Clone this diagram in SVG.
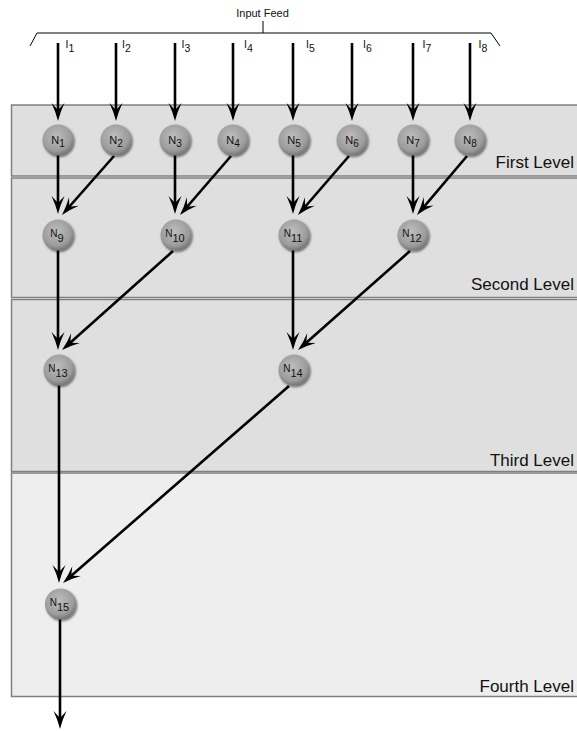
<svg xmlns="http://www.w3.org/2000/svg" width="577" height="731" viewBox="0 0 577 731">
<style>
.panel{stroke:#808080;stroke-width:1.5}
.p1{fill:#dfdfdf}.p4{fill:#eeeeee}
.lvl{font-family:"Liberation Sans",Arial,sans-serif;font-size:17px;fill:#111;text-anchor:end}
.lab{font-family:"Liberation Sans",Arial,sans-serif;fill:#111}
.edge{stroke:#000;stroke-width:2.6;fill:none;marker-end:url(#ah)}
.node circle{fill:url(#ng);filter:url(#sh)}
.n1{font-size:11px}.s1{font-size:10px}
.n2{font-size:10px}.s2{font-size:11px}
</style>
<defs>
<radialGradient id="ng" cx="45%" cy="38%" r="62%">
<stop offset="0" stop-color="#bdbdbd"/>
<stop offset="0.75" stop-color="#9c9c9c"/>
<stop offset="1" stop-color="#767676"/>
</radialGradient>
<filter id="sh" x="-30%" y="-30%" width="170%" height="170%">
<feDropShadow dx="1.2" dy="1.5" stdDeviation="1" flood-color="#000" flood-opacity="0.55"/>
</filter>
<marker id="ah" viewBox="-19 -7 20 14" markerWidth="20" markerHeight="14" refX="-8" refY="0" orient="auto" markerUnits="userSpaceOnUse">
<path d="M0,0 Q-9,-2.2 -18,-6.5 L-11,0 L-18,6.5 Q-9,2.2 0,0 Z" fill="#000"/>
</marker>
</defs>

<g id="panels">
<rect class="panel p1" x="11.5" y="105" width="580" height="71"/>
<rect class="panel p1" x="11.5" y="178" width="580" height="119.5"/>
<rect class="panel p1" x="11.5" y="299.5" width="580" height="172"/>
<rect class="panel p4" x="11.5" y="473" width="580" height="223.5"/>
<text class="lvl" x="574" y="168">First Level</text>
<text class="lvl" x="574" y="290">Second Level</text>
<text class="lvl" x="574" y="466">Third Level</text>
<text class="lvl" x="574" y="692">Fourth Level</text>
</g>

<g id="input-feed">
<polyline points="30,46 37,33 491,33 500,46" fill="none" stroke="#000" stroke-width="1"/>
<line x1="263" y1="33" x2="263" y2="21" stroke="#000" stroke-width="1"/>
<text class="lab" x="262.5" y="17" font-size="11" text-anchor="middle">Input Feed</text>
<g class="lab" font-size="10.5">
<text x="65.5" y="48.3">I<tspan dy="3.5">1</tspan></text>
<text x="122" y="48.3">I<tspan dy="3.5">2</tspan></text>
<text x="181.5" y="48.3">I<tspan dy="3.5">3</tspan></text>
<text x="244" y="48.3">I<tspan dy="3.5">4</tspan></text>
<text x="306" y="48.3">I<tspan dy="3.5">5</tspan></text>
<text x="363" y="48.3">I<tspan dy="3.5">6</tspan></text>
<text x="422.5" y="48.3">I<tspan dy="3.5">7</tspan></text>
<text x="478.5" y="48.3">I<tspan dy="3.5">8</tspan></text>
</g>
</g>

<g id="connectors">
<line class="edge" x1="58" y1="43" x2="58" y2="113"/>
<line class="edge" x1="116" y1="43" x2="116" y2="113"/>
<line class="edge" x1="175" y1="43" x2="175" y2="113"/>
<line class="edge" x1="233" y1="43" x2="233" y2="113"/>
<line class="edge" x1="293" y1="43" x2="293" y2="113"/>
<line class="edge" x1="352" y1="43" x2="352" y2="113"/>
<line class="edge" x1="413" y1="43" x2="413" y2="113"/>
<line class="edge" x1="470" y1="43" x2="470" y2="113"/>

<line class="edge" x1="58" y1="140" x2="58" y2="206"/>
<line class="edge" x1="114" y1="156" x2="67.3" y2="209"/>
<line class="edge" x1="175" y1="140" x2="175" y2="206"/>
<line class="edge" x1="231" y1="156" x2="185.2" y2="209"/>
<line class="edge" x1="293" y1="140" x2="293" y2="206"/>
<line class="edge" x1="349" y1="156" x2="303.2" y2="209"/>
<line class="edge" x1="413" y1="140" x2="413" y2="206"/>
<line class="edge" x1="467" y1="156" x2="422.2" y2="208.9"/>

<line class="edge" x1="58" y1="235" x2="58" y2="342"/>
<line class="edge" x1="173" y1="251" x2="68" y2="344.7"/>
<line class="edge" x1="293" y1="235" x2="293" y2="342"/>
<line class="edge" x1="410" y1="251" x2="304" y2="344.7"/>

<line class="edge" x1="59" y1="370" x2="59" y2="575"/>
<line class="edge" x1="289" y1="386" x2="69" y2="577.7"/>

<line class="edge" x1="60" y1="604" x2="60" y2="721"/>
</g>

<g id="N1" class="node"><circle cx="58" cy="140" r="15.5"/><text class="lab n1" x="58" y="143.5" text-anchor="middle">N<tspan class="s1" dy="3">1</tspan></text></g>
<g id="N2" class="node"><circle cx="116" cy="140" r="15.5"/><text class="lab n1" x="116" y="143.5" text-anchor="middle">N<tspan class="s1" dy="3">2</tspan></text></g>
<g id="N3" class="node"><circle cx="175" cy="140" r="15.5"/><text class="lab n1" x="175" y="143.5" text-anchor="middle">N<tspan class="s1" dy="3">3</tspan></text></g>
<g id="N4" class="node"><circle cx="233" cy="140" r="15.5"/><text class="lab n1" x="233" y="143.5" text-anchor="middle">N<tspan class="s1" dy="3">4</tspan></text></g>
<g id="N5" class="node"><circle cx="294" cy="140" r="15.5"/><text class="lab n1" x="294" y="143.5" text-anchor="middle">N<tspan class="s1" dy="3">5</tspan></text></g>
<g id="N6" class="node"><circle cx="352" cy="140" r="15.5"/><text class="lab n1" x="352" y="143.5" text-anchor="middle">N<tspan class="s1" dy="3">6</tspan></text></g>
<g id="N7" class="node"><circle cx="413" cy="140" r="15.5"/><text class="lab n1" x="413" y="143.5" text-anchor="middle">N<tspan class="s1" dy="3">7</tspan></text></g>
<g id="N8" class="node"><circle cx="470" cy="140" r="15.5"/><text class="lab n1" x="470" y="143.5" text-anchor="middle">N<tspan class="s1" dy="3">8</tspan></text></g>

<g id="N9" class="node"><circle cx="58" cy="235" r="15.5"/><text class="lab n2" x="57" y="237" text-anchor="middle">N<tspan class="s2" dy="5">9</tspan></text></g>
<g id="N10" class="node"><circle cx="176" cy="235" r="15.5"/><text class="lab n2" x="175" y="237" text-anchor="middle">N<tspan class="s2" dy="5">10</tspan></text></g>
<g id="N11" class="node"><circle cx="294" cy="235" r="15.5"/><text class="lab n2" x="293" y="237" text-anchor="middle">N<tspan class="s2" dy="5">11</tspan></text></g>
<g id="N12" class="node"><circle cx="413" cy="235" r="15.5"/><text class="lab n2" x="412" y="237" text-anchor="middle">N<tspan class="s2" dy="5">12</tspan></text></g>

<g id="N13" class="node"><circle cx="59" cy="370" r="15.5"/><text class="lab n2" x="58" y="372" text-anchor="middle">N<tspan class="s2" dy="5">13</tspan></text></g>
<g id="N14" class="node"><circle cx="294" cy="370" r="15.5"/><text class="lab n2" x="293" y="372" text-anchor="middle">N<tspan class="s2" dy="5">14</tspan></text></g>

<g id="N15" class="node"><circle cx="60.5" cy="604" r="15.5"/><text class="lab n2" x="59.5" y="606" text-anchor="middle">N<tspan class="s2" dy="5">15</tspan></text></g>
</svg>
